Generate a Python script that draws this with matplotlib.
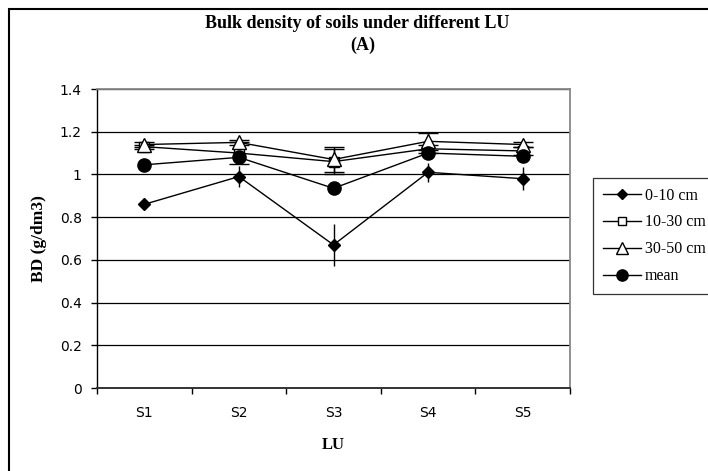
import matplotlib
matplotlib.use("Agg")
import matplotlib.pyplot as plt
from matplotlib.lines import Line2D
from matplotlib.patches import Rectangle

# data
sites = ["S1", "S2", "S3", "S4", "S5"]
bd_0_10 = [0.86, 0.99, 0.67, 1.01, 0.98]
err_0_10 = [0.02, 0.05, 0.10, 0.045, 0.055]
bd_10_30 = [1.13, 1.10, 1.06, 1.12, 1.11]
err_10_30 = [0.01, 0.05, 0.06, 0.02, 0.02]
bd_30_50 = [1.14, 1.15, 1.07, 1.155, 1.14]
err_30_50 = [0.01, 0.01, 0.06, 0.04, 0.01]
bd_mean = [1.045, 1.08, 0.935, 1.10, 1.085]
series_labels = ["0-10 cm", "10-30 cm", "30-50 cm", "mean"]

serif = "Liberation Serif"
sans = "DejaVu Sans"

fig = plt.figure(figsize=(7.08, 4.71), dpi=100)
ax = fig.add_axes([97 / 708, 1 - 388 / 471, 473 / 708, 299 / 471])

x = list(range(len(sites)))

# marker styles: (marker, size, face colour)
styles = [("D", 6.5, "black"), ("s", 7, "white"), ("^", 10, "white"), ("o", 9.5, "black")]

ax.errorbar(x, bd_0_10, yerr=err_0_10, color="black", lw=1, marker="D",
            ms=6.5, mfc="black", mec="black", capsize=0, elinewidth=1, zorder=3)
ax.errorbar(x, bd_10_30, yerr=err_10_30, color="black", lw=1, marker="s",
            ms=7, mfc="white", mec="black", capsize=7, elinewidth=1, zorder=3)
ax.errorbar(x, bd_30_50, yerr=err_30_50, color="black", lw=1, marker="^",
            ms=10, mfc="white", mec="black", capsize=7, elinewidth=1, zorder=4)
ax.plot(x, bd_mean, color="black", lw=1, marker="o", ms=9.5, zorder=5)

ax.set_xlim(-0.5, len(sites) - 0.5)
ax.set_ylim(0, 1.4)
ax.set_yticks([0, 0.2, 0.4, 0.6, 0.8, 1, 1.2, 1.4])
ax.set_yticklabels(["0", "0.2", "0.4", "0.6", "0.8", "1", "1.2", "1.4"],
                   fontfamily=sans, fontsize=10)
ax.set_xticks(x)
ax.set_xticklabels(sites, fontfamily=sans, fontsize=10)
ax.set_xticks([i - 0.5 for i in range(len(sites) + 1)], minor=True)
ax.tick_params(axis="x", which="major", length=0, pad=13)
ax.tick_params(axis="x", which="minor", length=4, direction="out", width=1)
ax.tick_params(axis="y", length=4, direction="out", width=1, pad=7)

ax.grid(axis="y", color="black", lw=0.9)
ax.set_axisbelow(True)
for side in ["top", "right"]:
    ax.spines[side].set_color("#888888")
    ax.spines[side].set_linewidth(1.3)
ax.spines["left"].set_linewidth(1)
ax.spines["bottom"].set_linewidth(1.4)
ax.spines["bottom"].set_color("#333333")

ax.set_ylabel("BD (g/dm3)", fontfamily=serif, fontweight="bold", fontsize=12.5,
              labelpad=9)
ax.set_xlabel("LU", fontfamily=serif, fontweight="bold", fontsize=12,
              labelpad=12)

fig.text(357 / 708, 1 - 24 / 471, "Bulk density of soils under different LU",
         ha="center", va="center", fontfamily=serif, fontweight="bold",
         fontsize=13)
fig.text(363 / 708, 1 - 45 / 471, "(A)", ha="center", va="center",
         fontfamily=serif, fontweight="bold", fontsize=13)

handles = [Line2D([], [], color="black", lw=1, marker=m, ms=s * 0.85,
                  mfc=fc, mec="black") for m, s, fc in styles]
leg = fig.legend(handles, series_labels, loc="upper left",
                 bbox_to_anchor=(593 / 708, 1 - 178 / 471),
                 prop={"family": serif, "size": 11.5}, frameon=True,
                 fancybox=False, handlelength=2.4, handletextpad=0.25,
                 labelspacing=0.68, borderpad=0.6, borderaxespad=0)
leg.get_frame().set_edgecolor("black")
leg.get_frame().set_linewidth(0.9)

# outer chart border (partly cut by the image edge)
fig.patches.append(Rectangle((9 / 708, -0.1), 1.2, 1 - 9 / 471 + 0.1,
                             transform=fig.transFigure, fill=False,
                             ec="black", lw=1.5))

fig.savefig("out.png", dpi=100)
